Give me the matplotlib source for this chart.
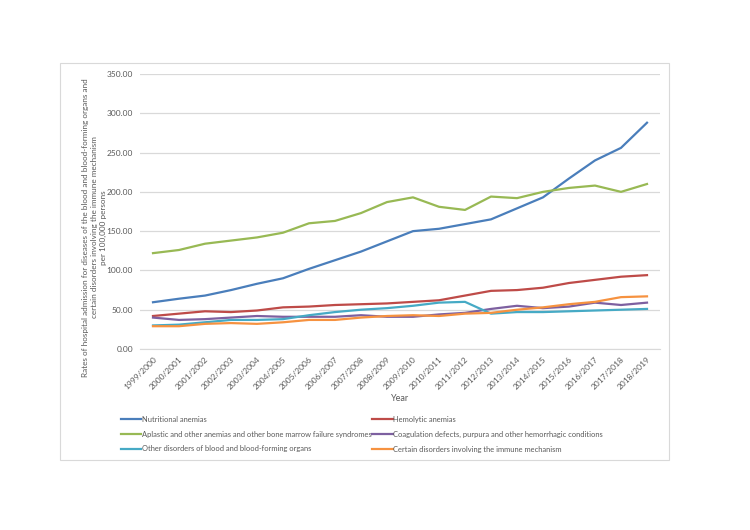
import matplotlib
matplotlib.use("Agg")
import matplotlib.pyplot as plt
from matplotlib.patches import Rectangle

plt.rcParams['font.family'] = ['Lato', 'DejaVu Sans']

years = ["1999/2000", "2000/2001", "2001/2002", "2002/2003", "2003/2004", "2004/2005",
         "2005/2006", "2006/2007", "2007/2008", "2008/2009", "2009/2010", "2010/2011",
         "2011/2012", "2012/2013", "2013/2014", "2014/2015", "2015/2016", "2016/2017",
         "2017/2018", "2018/2019"]

nutritional = [59.5, 64, 68, 75, 83, 90, 102, 113, 124, 137, 150, 153, 159, 165, 179, 193, 217, 240, 256, 288]
hemolytic = [42, 45, 48, 47, 49, 53, 54, 56, 57, 58, 60, 62, 68, 74, 75, 78, 84, 88, 92, 94]
aplastic = [122, 126, 134, 138, 142, 148, 160, 163, 173, 187, 193, 181, 177, 194, 192, 200, 205, 208, 200, 210]
coagulation = [40, 37, 38, 40, 42, 41, 41, 41, 43, 41, 41, 44, 46, 51, 55, 52, 54, 59, 56, 59]
other = [30, 31, 34, 37, 37, 38, 43, 47, 50, 52, 55, 59, 60, 45, 47, 47, 48, 49, 50, 51]
immune = [29, 29, 32, 33, 32, 34, 37, 37, 40, 42, 43, 42, 45, 46, 50, 53, 57, 60, 66, 67]

grey_txt = '#595959'
grid_c = '#D9D9D9'

fig = plt.figure(figsize=(7.5, 5.3), dpi=100)
ax = fig.add_axes([140/750, 1-349/530, 520/750, 275/530])

x = list(range(len(years)))
l1, = ax.plot(x, nutritional, color='#4A7EBB', lw=1.6, label='Nutritional anemias')
l2, = ax.plot(x, hemolytic, color='#BE4B48', lw=1.6, label='Hemolytic anemias')
l3, = ax.plot(x, aplastic, color='#98B954', lw=1.6,
              label='Aplastic and other anemias and other bone marrow failure syndromes')
l4, = ax.plot(x, coagulation, color='#7D60A0', lw=1.6,
              label='Coagulation defects, purpura and other hemorrhagic conditions')
l5, = ax.plot(x, other, color='#46AAC5', lw=1.6, label='Other disorders of blood and blood-forming organs')
l6, = ax.plot(x, immune, color='#F69240', lw=1.6, label='Certain disorders involving the immune mechanism')

ax.set_xlim(-0.5, len(years) - 0.5)
ax.set_ylim(0, 350)
ax.set_yticks(range(0, 351, 50))
ax.set_yticklabels(['%.2f' % v for v in range(0, 351, 50)])
ax.set_xticks(x)
ax.set_xticklabels(years, rotation=45, ha='right', rotation_mode='anchor')
ax.tick_params(axis='both', length=0, labelsize=6, colors=grey_txt)
ax.tick_params(axis='y', pad=5)
ax.tick_params(axis='x', pad=5)
ax.grid(axis='y', color=grid_c, lw=0.9)
ax.set_axisbelow(True)
for s in ['top', 'right', 'left']:
    ax.spines[s].set_visible(False)
ax.spines['bottom'].set_color(grid_c)

ax.set_xlabel('Year', fontsize=6.5, color=grey_txt, labelpad=2)
ax.set_ylabel('Rates of hospital admission for diseases of the blood and blood-forming organs and\n'
              'certain disorders involving the immune mechanism\nper 100,000 persons',
              fontsize=5.9, color=grey_txt, linespacing=1.35)
ax.yaxis.set_label_coords(-33/520, 0.5 - 16/275)

leg = fig.legend(handles=[l1, l3, l5, l2, l4, l6], ncol=2, loc='upper left',
                 bbox_to_anchor=(117/750, 1-412/530), frameon=False, fontsize=5.4,
                 handlelength=2.7, handletextpad=0.1, columnspacing=0.1,
                 labelspacing=1.05, borderpad=0)
for t in leg.get_texts():
    t.set_color(grey_txt)

fig.add_artist(Rectangle((60/750, 1-460/530), 609/750, 397/530, transform=fig.transFigure,
                         fill=False, edgecolor=grid_c, lw=0.8))

fig.savefig('out.png', dpi=100, facecolor='white')
